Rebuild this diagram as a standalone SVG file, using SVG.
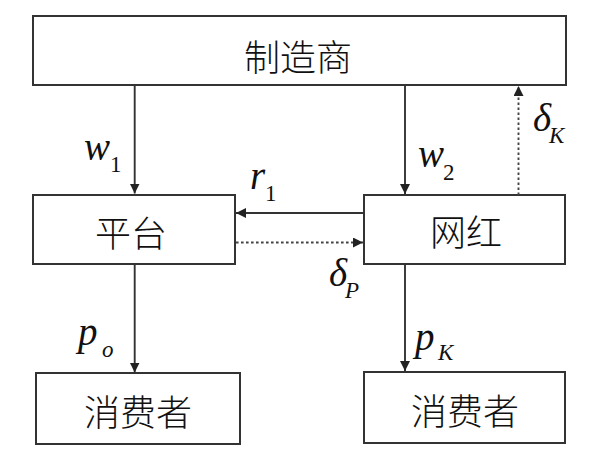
<svg xmlns="http://www.w3.org/2000/svg" width="602" height="458" viewBox="0 0 602 458">
<defs>
<style>
.box{fill:#fff;stroke:#333;stroke-width:2}
.cjk{font-family:"Noto Sans CJK SC","Noto Sans",sans-serif;font-weight:300;font-size:36px;fill:#111;text-anchor:middle;dominant-baseline:central}
.ln{stroke:#333;stroke-width:1.9;fill:none}
.dot{stroke:#444;stroke-width:1.9;fill:none;stroke-dasharray:2.6 2.4}
.m{font-family:"Liberation Serif","Times New Roman",serif;font-style:italic;font-size:39px;fill:#111}
.s{font-family:"Liberation Serif","Times New Roman",serif;font-size:23px;fill:#111}
.si{font-family:"Liberation Serif","Times New Roman",serif;font-style:italic;font-size:23px;fill:#111}
</style>
<marker id="ah" viewBox="0 0 10 10" refX="10" refY="5" markerWidth="10" markerHeight="10" markerUnits="userSpaceOnUse" orient="auto">
<path d="M0,0 L10,5 L0,10 z" fill="#222"/>
</marker>
</defs>
<rect width="602" height="458" fill="#fff"/>
<g id="manufacturer">
<rect class="box" x="33" y="16" width="533" height="69"/>
<text class="cjk" x="298" y="55">制造商</text>
</g>
<g id="platform">
<rect class="box" x="33" y="195" width="202" height="69"/>
<text class="cjk" x="131" y="231">平台</text>
</g>
<g id="influencer">
<rect class="box" x="364" y="195" width="201" height="69"/>
<text class="cjk" x="466" y="230">网红</text>
</g>
<g id="consumer1">
<rect class="box" x="36" y="373" width="204" height="71"/>
<text class="cjk" x="138" y="410">消费者</text>
</g>
<g id="consumer2">
<rect class="box" x="364" y="372" width="201" height="71"/>
<text class="cjk" x="465" y="408.5">消费者</text>
</g>
<g id="connectors">
<line class="ln" x1="134.7" y1="85" x2="134.7" y2="193.5" marker-end="url(#ah)"/>
<line class="ln" x1="405" y1="85" x2="405" y2="194" marker-end="url(#ah)"/>
<line class="dot" x1="518.5" y1="195" x2="518.5" y2="86" marker-end="url(#ah)"/>
<line class="ln" x1="364" y1="213" x2="236" y2="213" marker-end="url(#ah)"/>
<line class="dot" x1="236" y1="242.5" x2="363" y2="242.5" marker-end="url(#ah)"/>
<line class="ln" x1="134.7" y1="264" x2="134.7" y2="372.5" marker-end="url(#ah)"/>
<line class="ln" x1="405" y1="264" x2="405" y2="371" marker-end="url(#ah)"/>
</g>
<g id="labels">
<text class="m" x="84" y="160">w</text><text class="s" x="110" y="172">1</text>
<text class="m" x="418" y="167">w</text><text class="s" x="443" y="180">2</text>
<text class="m" x="250" y="189">r</text><text class="s" x="265" y="201">1</text>
<text class="m" x="329" y="286">δ</text><text class="si" x="345" y="298">P</text>
<text class="m" x="533" y="131">δ</text><text class="si" x="549" y="143">K</text>
<text class="m" x="78" y="345">p</text><text class="si" x="102" y="357">o</text>
<text class="m" x="415" y="350">p</text><text class="si" x="438" y="360">K</text>
</g>
</svg>
